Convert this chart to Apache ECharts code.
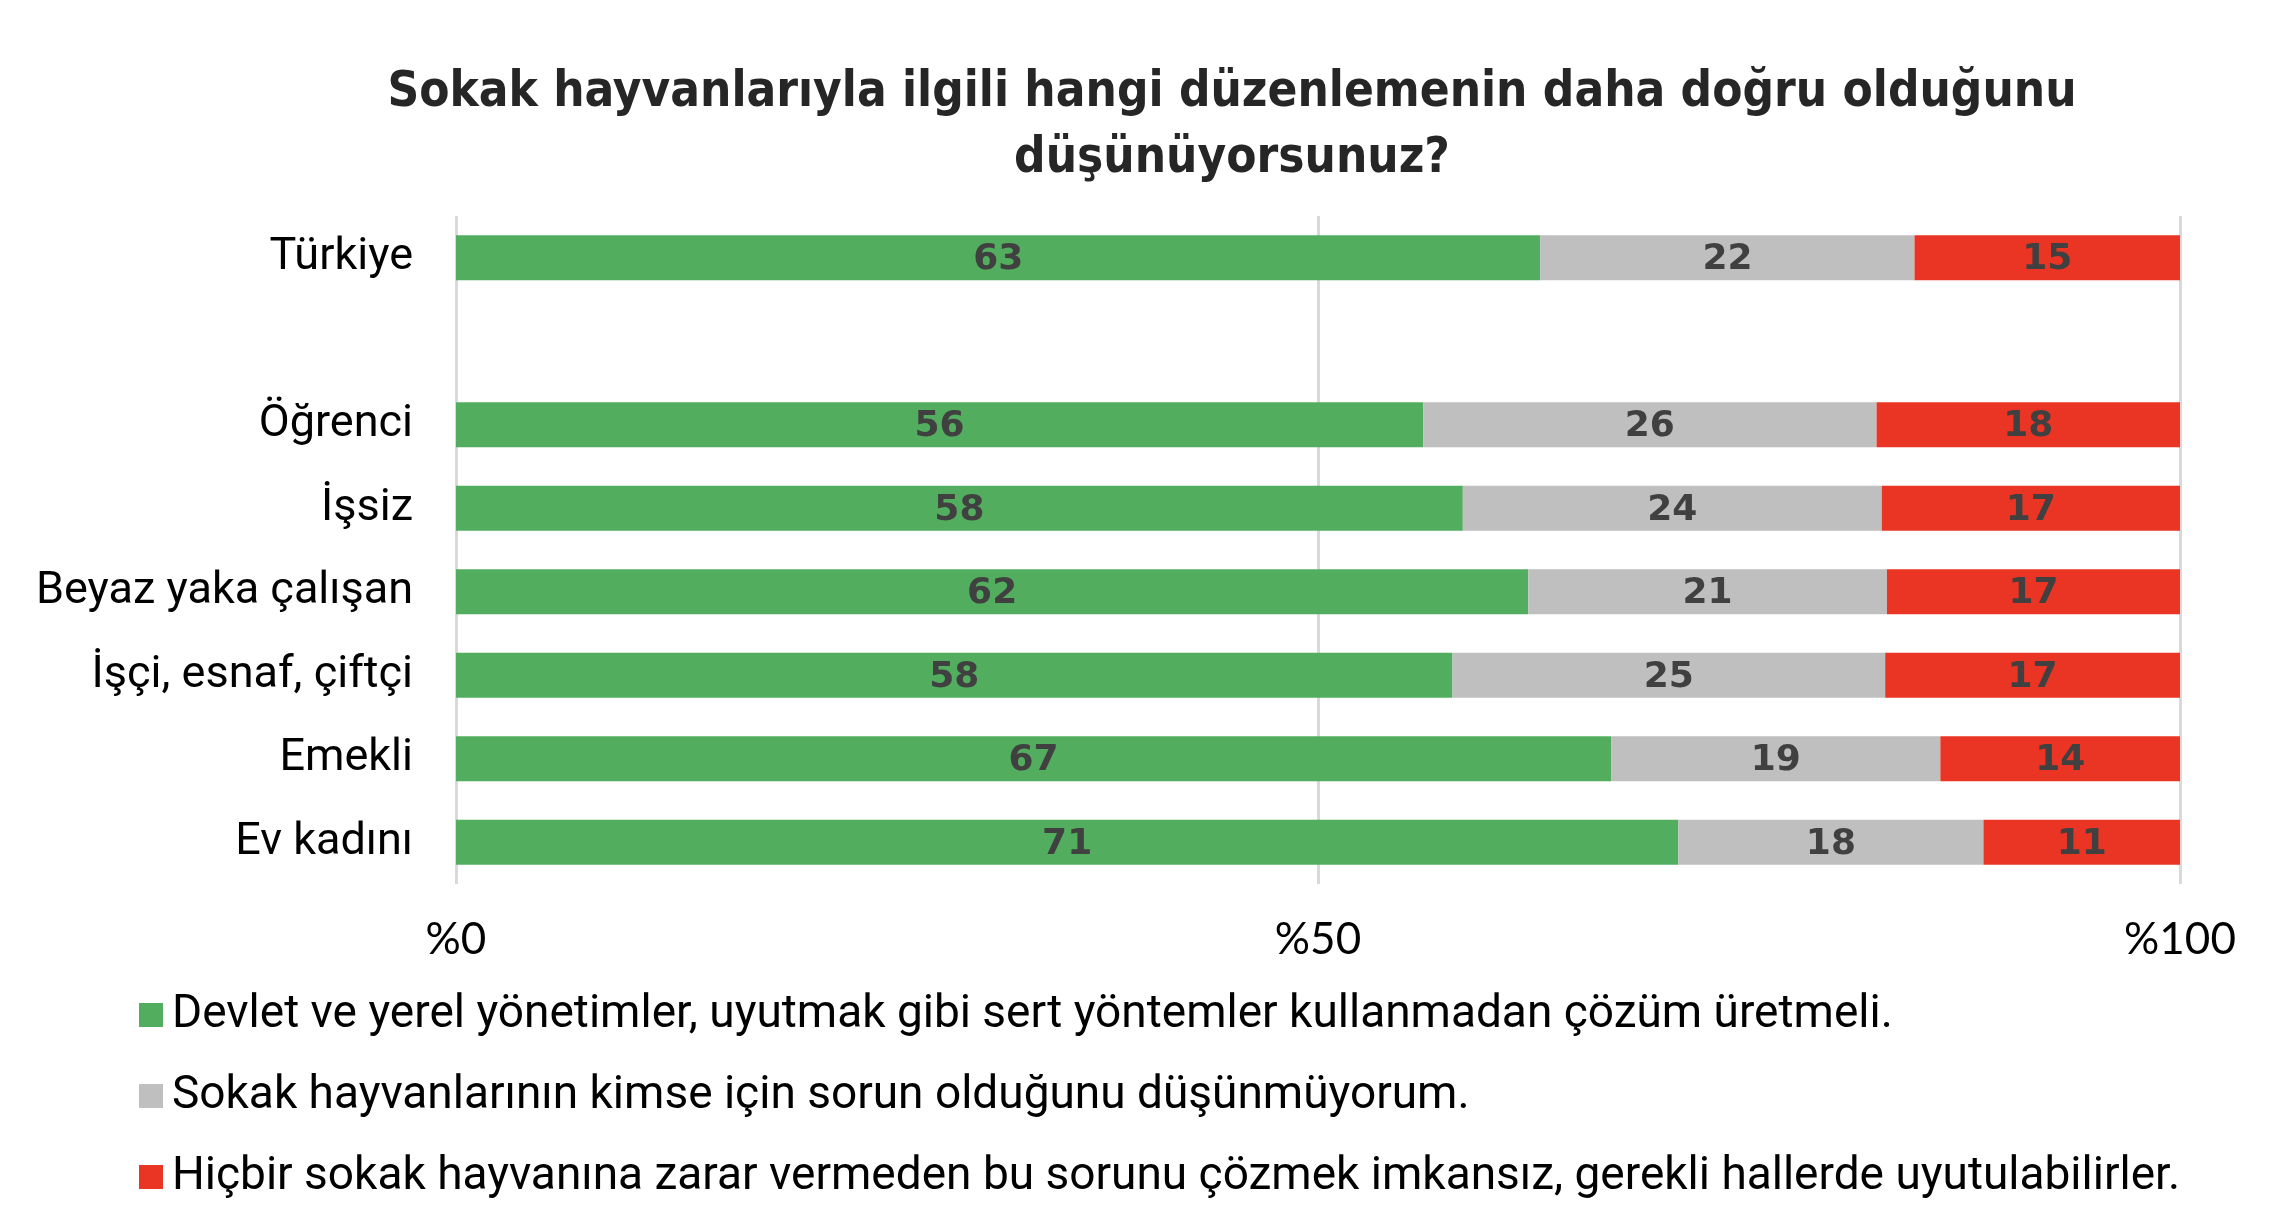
<!DOCTYPE html>
<html><head><meta charset="utf-8">
<script src="https://cdn.jsdelivr.net/npm/echarts@6/dist/echarts.min.js"></script>
<style>html,body{margin:0;padding:0;background:#fff}#c{width:2290px;height:1232px}</style>
</head><body><div id="c"></div>
<script>
var categories = ['Türkiye', '', 'Öğrenci', 'İşsiz', 'Beyaz yaka çalışan', 'İşçi, esnaf, çiftçi', 'Emekli', 'Ev kadını'];
var seriesNames = [
  'Devlet ve yerel yönetimler, uyutmak gibi sert yöntemler kullanmadan çözüm üretmeli.',
  'Sokak hayvanlarının kimse için sorun olduğunu düşünmüyorum.',
  'Hiçbir sokak hayvanına zarar vermeden bu sorunu çözmek imkansız, gerekli hallerde uyutulabilirler.'
];
var greenValues = [62.9, null, 56.1, 58.4, 62.2, 57.8, 67.0, 70.9];
var grayValues  = [21.7, null, 26.3, 24.3, 20.8, 25.1, 19.1, 17.7];
var redValues   = [15.4, null, 17.6, 17.3, 17.0, 17.1, 13.9, 11.4];
var xTicks = [0, 50, 100];
var colors = ['#52AE5E', '#BFBFBF', '#EA3424'];

var chart = echarts.init(document.getElementById('c'));
function mk(name, data, color) {
  return {
    name: name, type: 'bar', stack: 'a', data: data, barWidth: 45,
    itemStyle: { color: color },
    label: { show: true, position: 'inside', color: '#404040', offset: [0, 2],
      fontFamily: 'DejaVu Sans', fontWeight: 'bold', fontSize: 36,
      formatter: function (p) { return p.value == null ? '' : Math.round(p.value); } }
  };
}
chart.setOption({
  animation: false,
  title: {
    text: 'Sokak hayvanlarıyla ilgili hangi düzenlemenin daha doğru olduğunu\ndüşünüyorsunuz?',
    left: 1227, textAlign: 'center', top: 55,
    textStyle: { fontFamily: 'DejaVu Sans Condensed, Roboto', fontWeight: 'bold', fontSize: 49, lineHeight: 66, color: '#262626' }
  },
  legend: {
    orient: 'vertical', left: 134, top: 987, itemGap: 35, itemWidth: 24, itemHeight: 24,
    icon: 'rect',
    textStyle: { fontFamily: 'Roboto', fontSize: 46, color: '#000', padding: [0, 0, 0, 4] },
    data: seriesNames
  },
  grid: { left: 456, right: 110, top: 216, bottom: 348 },
  xAxis: {
    type: 'value', min: 0, max: 100, interval: 50,
    axisLine: { show: false }, axisTick: { show: false },
    splitLine: { lineStyle: { color: '#D9D9D9', width: 3 } },
    axisLabel: { fontFamily: 'Lato', fontSize: 44, color: '#000', margin: 34,
      formatter: function (v) { return xTicks.indexOf(v) >= 0 ? '%' + v : ''; } }
  },
  yAxis: {
    type: 'category', inverse: true, data: categories,
    axisLine: { show: false }, axisTick: { show: false },
    axisLabel: { fontFamily: 'Roboto', fontSize: 45, color: '#000', margin: 43 }
  },
  series: [mk(seriesNames[0], greenValues, colors[0]), mk(seriesNames[1], grayValues, colors[1]), mk(seriesNames[2], redValues, colors[2])]
});
</script></body></html>
